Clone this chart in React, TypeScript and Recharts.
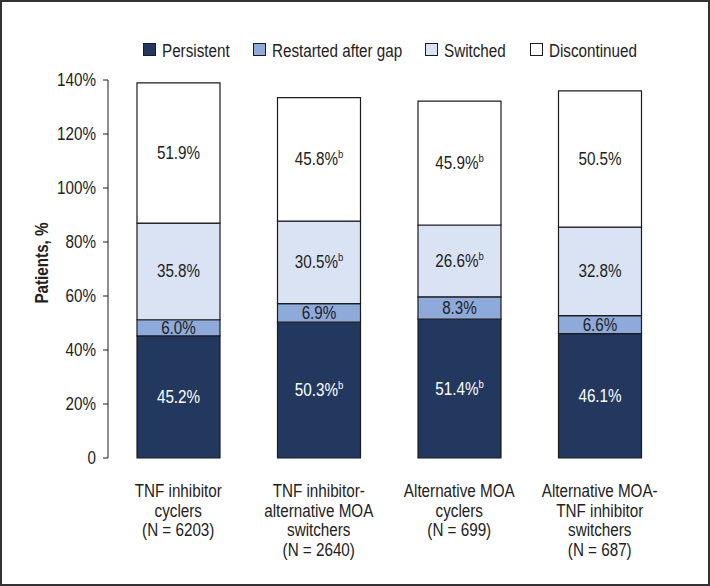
import React from 'react';
import { BarChart, Bar, XAxis, YAxis, LabelList, Label } from 'recharts';

const categories = ['TNF inhibitor cyclers', 'TNF inhibitor-alternative MOA switchers', 'Alternative MOA cyclers', 'Alternative MOA-TNF inhibitor switchers'];
const categoryLines = [
  ['TNF inhibitor', 'cyclers', '(N = 6203)'],
  ['TNF inhibitor-', 'alternative MOA', 'switchers', '(N = 2640)'],
  ['Alternative MOA', 'cyclers', '(N = 699)'],
  ['Alternative MOA-', 'TNF inhibitor', 'switchers', '(N = 687)'],
];
const persistent = [45.2, 50.3, 51.4, 46.1];
const restarted = [6.0, 6.9, 8.3, 6.6];
const switched = [35.8, 30.5, 26.6, 32.8];
const discontinued = [51.9, 45.8, 45.9, 50.5];
const persistentSup = [false, true, true, false];
const restartedSup = [false, false, false, false];
const switchedSup = [false, true, true, false];
const discontinuedSup = [false, true, true, false];
const yTicks = [0, 20, 40, 60, 80, 100, 120, 140];
const boundaryTicks = [0, 1, 2, 3, 4];

const seriesNames = ['Persistent', 'Restarted after gap', 'Switched', 'Discontinued'];
const seriesColors = ['#22385f', '#8eaadb', '#dae3f3', '#ffffff'];
const legendX = [143, 253, 425, 530];

const data = categories.map((c, i) => ({
  idx: i,
  category: c,
  persistent: persistent[i],
  restarted: restarted[i],
  switched: switched[i],
  discontinued: discontinued[i],
}));

const FONT = '"Liberation Sans", Arial, sans-serif';
const FS = 17.5;
const SX = 0.87;
const TEXT = '#222';
const STROKE = '#1c1c1c';

const NText = ({ x, y, anchor = 'start', fill = TEXT, size = FS, weight = 'normal', rotate = 0, children }: any) => (
  <text
    transform={`translate(${x},${y})${rotate ? ` rotate(${rotate})` : ''} scale(${SX},1)`}
    x={0}
    y={0}
    textAnchor={anchor}
    fontFamily={FONT}
    fontSize={size}
    fontWeight={weight}
    fill={fill}
  >
    {children}
  </text>
);

const makeLabel = (sups: boolean[], color: string) => (props: any) => {
  const x = Number(props.x), y = Number(props.y), w = Number(props.width), h = Number(props.height);
  const v = Number(props.value);
  const i = props.index;
  return (
    <NText x={x + w / 2} y={y + h / 2 + 6} anchor="middle" fill={color}>
      {v.toFixed(1)}%
      {sups[i] ? <tspan dy={-7} fontSize={11}>b</tspan> : null}
    </NText>
  );
};

const CatTick = (props: any) => {
  const { x, y, payload } = props;
  const lines = categoryLines[payload.index] || [];
  return (
    <g>
      {lines.map((l, k) => (
        <NText key={k} x={x} y={y + 31 + k * 19.5} anchor="middle">
          {l}
        </NText>
      ))}
    </g>
  );
};

const YTick = (props: any) => {
  const { x, y, payload } = props;
  const v = payload.value;
  return (
    <NText x={x} y={y + 6} anchor="end">
      {v === 0 ? '0' : `${v}%`}
    </NText>
  );
};

const YLabel = (props: any) => {
  const vb = props.viewBox || {};
  const cx = vb.x + 28;
  const cy = vb.y + vb.height / 2 - 6;
  return (
    <NText x={cx} y={cy} anchor="middle" weight="bold" rotate={-90}>
      Patients, %
    </NText>
  );
};

export default function App() {
  return (
    <div style={{ position: 'fixed', left: 0, top: 0, width: 710, height: 586, background: '#fff' }}>
      <BarChart width={710} height={586} data={data} margin={{ top: 80, right: 40, left: 20, bottom: 18 }} barSize={83}>
        <XAxis xAxisId="grid" type="number" domain={[0, 4]} ticks={boundaryTicks} tick={false} tickSize={5}
          height={0} stroke={STROKE} allowDataOverflow />
        <XAxis xAxisId="cat" dataKey="category" type="category" height={110} axisLine={false} tickLine={false}
          tick={<CatTick />} interval={0} />
        <YAxis domain={[0, 140]} ticks={yTicks} width={88} tickSize={5} tickMargin={7} stroke={STROKE}
          tick={<YTick />}>
          <Label content={<YLabel />} />
        </YAxis>
        <Bar xAxisId="cat" dataKey="persistent" stackId="a" fill={seriesColors[0]} stroke={STROKE} strokeWidth={1.2} isAnimationActive={false}>
          <LabelList dataKey="persistent" content={makeLabel(persistentSup, '#ffffff')} />
        </Bar>
        <Bar xAxisId="cat" dataKey="restarted" stackId="a" fill={seriesColors[1]} stroke={STROKE} strokeWidth={1.2} isAnimationActive={false}>
          <LabelList dataKey="restarted" content={makeLabel(restartedSup, TEXT)} />
        </Bar>
        <Bar xAxisId="cat" dataKey="switched" stackId="a" fill={seriesColors[2]} stroke={STROKE} strokeWidth={1.2} isAnimationActive={false}>
          <LabelList dataKey="switched" content={makeLabel(switchedSup, TEXT)} />
        </Bar>
        <Bar xAxisId="cat" dataKey="discontinued" stackId="a" fill={seriesColors[3]} stroke={STROKE} strokeWidth={1.2} isAnimationActive={false}>
          <LabelList dataKey="discontinued" content={makeLabel(discontinuedSup, TEXT)} />
        </Bar>
      </BarChart>
      <svg width={710} height={80} style={{ position: 'absolute', left: 0, top: 0, pointerEvents: 'none' }}>
        {seriesNames.map((n, i) => (
          <g key={n}>
            <rect x={legendX[i] + 0.5} y={43.5} width={12} height={12} fill={seriesColors[i]} stroke={STROKE} strokeWidth={1} />
            <NText x={legendX[i] + 19} y={56.5}>{n}</NText>
          </g>
        ))}
      </svg>
      <div style={{ position: 'absolute', left: 0, top: 0, width: 710, height: 586, boxSizing: 'border-box', border: '2px solid #333', pointerEvents: 'none' }} />
    </div>
  );
}
